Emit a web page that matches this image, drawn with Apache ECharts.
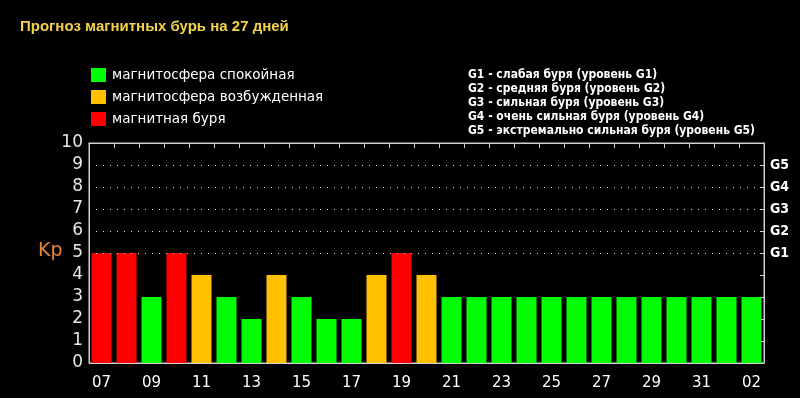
<!DOCTYPE html>
<html><head><meta charset="utf-8">
<script src="https://cdn.jsdelivr.net/npm/echarts@6/dist/echarts.min.js"></script>
<style>html,body{margin:0;padding:0;background:#000;}#c{width:800px;height:398px;}</style>
</head><body><div id="c"></div>
<script>
const days = ['07','08','09','10','11','12','13','14','15','16','17','18','19','20','21','22','23','24','25','26','27','28','29','30','31','01','02'];
const kp = [5,5,3,5,4,3,2,4,3,2,2,4,5,4,3,3,3,3,3,3,3,3,3,3,3,3,3];
// 0 = calm, 1 = disturbed, 2 = storm
const status = [2,2,0,2,1,0,0,1,0,0,0,1,2,1,0,0,0,0,0,0,0,0,0,0,0,0,0];
const statusNames = ['магнитосфера спокойная','магнитосфера возбужденная','магнитная буря'];
const statusColors = ['#00ff00','#ffc000','#ff0000'];
const gLevels = [5,6,7,8,9];
const gNames = ['G1','G2','G3','G4','G5'];
const gDescriptions = [
  'G1 - слабая буря (уровень G1)',
  'G2 - средняя буря (уровень G2)',
  'G3 - сильная буря (уровень G3)',
  'G4 - очень сильная буря (уровень G4)',
  'G5 - экстремально сильная буря (уровень G5)'
];
const title = 'Прогноз магнитных бурь на 27 дней';

const chart = echarts.init(document.getElementById('c'));
const series = statusNames.map((name, s) => ({
  name: name,
  type: 'bar',
  stack: 'kp',
  barCategoryGap: '20%',
  itemStyle: { color: statusColors[s] },
  data: kp.map((v, i) => status[i] === s ? v : '-'),
  z: 3
}));
series.push({
  type: 'line', data: kp, silent: true, xAxisIndex: 1, yAxisIndex: 1,
  symbol: 'none', lineStyle: { opacity: 0 }, tooltip: { show: false },
  markLine: {
    silent: true, symbol: 'none', label: { show: false },
    lineStyle: { color: '#dddddd', type: [1, 6], width: 1, opacity: 1 },
    data: gLevels.map(v => ({ yAxis: v }))
  },
  z: 2
});
const gMap = {};
gLevels.forEach((v, i) => gMap[v] = gNames[i]);

chart.setOption({
  backgroundColor: '#000',
  animation: false,
  title: {
    text: title, left: 20, top: 19, padding: 0,
    textStyle: { color: '#f2d24a', fontSize: 15, fontWeight: 'bold', fontFamily: 'Liberation Sans' }
  },
  legend: {
    orient: 'vertical', left: 91, top: 68, padding: 0,
    itemWidth: 15, itemHeight: 14, itemGap: 8,
    icon: 'rect',
    data: statusNames,
    textStyle: { color: '#ffffff', fontSize: 13.5, fontFamily: 'DejaVu Sans', padding: [0, 0, 0, 1] }
  },
  graphic: [
    {
      type: 'text', left: 468, top: 68,
      style: {
        text: gDescriptions.join('\n'),
        fill: '#ffffff', font: 'bold 12px "DejaVu Sans Condensed", "DejaVu Sans"',
        lineHeight: 14
      }
    },
    {
      type: 'text', left: 38, top: 242,
      style: { text: 'Kp', fill: '#e8843a', font: '19px "DejaVu Sans"' }
    }
  ],
  grid: { left: 89, right: 36, top: 143, bottom: 35, show: true, borderColor: '#d0d0d0', borderWidth: 1 },
  xAxis: [
    {
      type: 'category', data: days, position: 'bottom',
      axisLine: { onZero: false, lineStyle: { color: '#d0d0d0', width: 1 } },
      axisTick: { inside: true, length: 5, interval: 0, lineStyle: { color: '#d0d0d0' } },
      axisLabel: { interval: 1, color: '#ffffff', fontSize: 15, fontFamily: 'DejaVu Sans', margin: 13 }
    },
    {
      type: 'category', data: days, position: 'top',
      axisLine: { show: true, onZero: false, lineStyle: { color: '#d0d0d0', width: 1 } },
      axisTick: { show: true, inside: true, length: 5, interval: 0, lineStyle: { color: '#d0d0d0' } },
      axisLabel: { show: false }
    }
  ],
  yAxis: [
    {
      type: 'value', min: 0, max: 10, interval: 1, position: 'left',
      axisLine: { show: true, onZero: false, lineStyle: { color: '#d0d0d0' } },
      axisTick: { show: false },
      splitLine: { show: false },
      axisLabel: { color: '#e6e6e6', fontSize: 17, fontFamily: 'DejaVu Sans', margin: 6 }
    },
    {
      type: 'value', min: 0, max: 10, interval: 1, position: 'right',
      axisLine: { show: true, onZero: false, lineStyle: { color: '#d0d0d0' } },
      axisTick: { show: true, inside: true, length: 4, lineStyle: { color: '#d0d0d0' } },
      splitLine: { show: false },
      axisLabel: {
        color: '#ffffff', fontSize: 14, fontWeight: 'bold', fontFamily: '"DejaVu Sans Condensed", "DejaVu Sans"', margin: 6,
        formatter: v => gMap[v] || ''
      }
    }
  ],
  series: series
});
</script>
</body></html>
